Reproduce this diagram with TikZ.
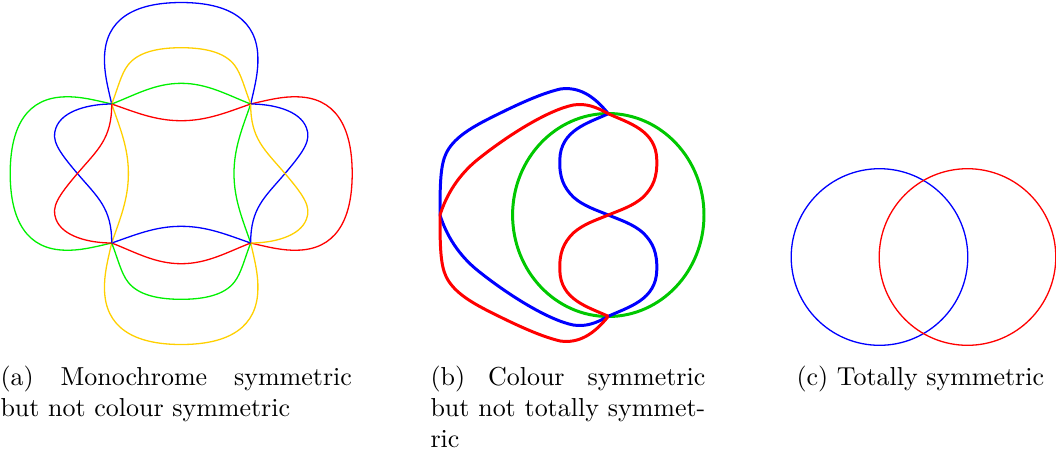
\documentclass[tikz,border=0pt]{standalone}
\usepackage{xcolor}
\definecolor{vblue}{RGB}{0,0,255}
\definecolor{vred}{RGB}{255,0,0}
\definecolor{vgreen}{RGB}{0,240,0}
\definecolor{vyellow}{RGB}{255,208,0}
\definecolor{bgreen}{RGB}{0,200,0}
\begin{document}
\begin{tikzpicture}[x=0.385pt,y=-0.385pt,
  thincurve/.style={line width=0.5pt},
  thickcurve/.style={line width=1.15pt},
  captionbox/.style={anchor=north west, inner sep=0pt, align=justify, font=\normalsize}]
\useasboundingbox (0,0) rectangle (1056,457);

% ---------- (a) pieces (drawn for the top side, centre at origin) ----------
\def\BigLobe{(-69.5,-69.5) .. controls (-74.2,-89.5) and (-77,-101.5) .. (-76.7,-115.5) .. controls (-76.2,-153.5) and (-48.2,-171) .. (0,-171) .. controls (48.2,-171) and (76.2,-153.5) .. (76.7,-115.5) .. controls (77,-101.5) and (74.2,-89.5) .. (69.5,-69.5)}
\def\MedLobe{(-69.5,-69.5) .. controls (-63.2,-85.5) and (-60.2,-99.5) .. (-53.2,-108.5) .. controls (-43.2,-121.5) and (-23.2,-125.8) .. (0,-125.8) .. controls (23.2,-125.8) and (43.2,-121.5) .. (53.2,-108.5) .. controls (60.2,-99.5) and (63.2,-85.5) .. (69.5,-69.5)}
\def\SmallArc{(-69.5,-69.5) .. controls (-46.2,-78.5) and (-26.2,-90.2) .. (0,-90.2) .. controls (26.2,-90.2) and (46.2,-78.5) .. (69.5,-69.5)}
\def\InArc{(-69.5,-69.5) .. controls (-46.2,-61.5) and (-26.2,-52.8) .. (0,-52.8) .. controls (26.2,-52.8) and (46.2,-61.5) .. (69.5,-69.5)}
\def\Twist{(69.5,-69.5) .. controls (90.8,-69.5) and (118.8,-63.5) .. (125.3,-45.5) .. controls (129.8,-33.5) and (123.8,-23.5) .. (103.8,0) .. controls (83.8,23.5) and (69.3,34.5) .. (69.5,69.5)}

\begin{scope}[shift={(181.2,173.5)}, thincurve]
  % top side
  \draw[vblue] \BigLobe;
  \draw[vyellow] \MedLobe;
  \draw[vgreen] \SmallArc;
  \draw[vred] \InArc;
  % bottom side
  \begin{scope}[yscale=-1]
    \draw[vyellow] \BigLobe;
    \draw[vgreen] \MedLobe;
    \draw[vred] \SmallArc;
    \draw[vblue] \InArc;
  \end{scope}
  % right side
  \begin{scope}[rotate=-90]
    \draw[vred] \BigLobe;
    \draw[vgreen] \InArc;
  \end{scope}
  % left side
  \begin{scope}[rotate=90]
    \draw[vgreen] \BigLobe;
    \draw[vyellow] \InArc;
  \end{scope}
  % twisted lobes
  \draw[vblue] \Twist;
  \draw[vyellow, yscale=-1] \Twist;
  \draw[vblue, xscale=-1] \Twist;
  \draw[vred, rotate=180] \Twist;
\end{scope}

% ---------- (b) ----------
\def\OuterUp{(-168.3,0) .. controls (-168.3,-30) and (-168,-50) .. (-162,-62) .. controls (-155,-76) and (-140,-86) .. (-118,-97) .. controls (-100,-106) and (-70,-121) .. (-48,-126) .. controls (-30,-128.5) and (-15,-120) .. (0,-101.3)}
\def\InnerUp{(0,-101.3) .. controls (-20,-92) and (-48,-85) .. (-48.5,-55) .. controls (-49,-38) and (-45,-28) .. (-35,-18) .. controls (-25,-9) and (-12,-5) .. (0,0)}
\def\OuterLow{(-168.3,0) .. controls (-162,20) and (-150,40) .. (-130,56) .. controls (-100,80) and (-60,105) .. (-35,110) .. controls (-22,112) and (-12,108) .. (0,101.3)}

\begin{scope}[shift={(608.3,215)}, thickcurve]
  \draw[bgreen] (0,0) ellipse [x radius=95.7, y radius=101.5];
  \draw[vblue] \OuterUp;
  \draw[vblue] \InnerUp;
  \draw[vblue, rotate=180] \InnerUp;
  \draw[vblue] \OuterLow;
  \begin{scope}[yscale=-1]
    \draw[vred] \OuterUp;
    \draw[vred] \InnerUp;
    \draw[vred, rotate=180] \InnerUp;
    \draw[vred] \OuterLow;
  \end{scope}
\end{scope}

% ---------- (c) ----------
\draw[vblue, thincurve] (879.5,257) circle [radius=88.3];
\draw[vred, thincurve] (967.5,257) circle [radius=88.3];

% ---------- captions ----------
\node[captionbox, text width=135.3pt] (capa) at (0,365.5)
  {(a) Monochrome symmetric\linebreak but not colour symmetric};
\node[captionbox, text width=105.8pt] (capb) at (430,365.5)
  {(b) Colour symmetric\linebreak but not totally symmet-\linebreak ric};
\node[captionbox] (capc) at (796,365.5) {(c) Totally symmetric};
\end{tikzpicture}
\end{document}
